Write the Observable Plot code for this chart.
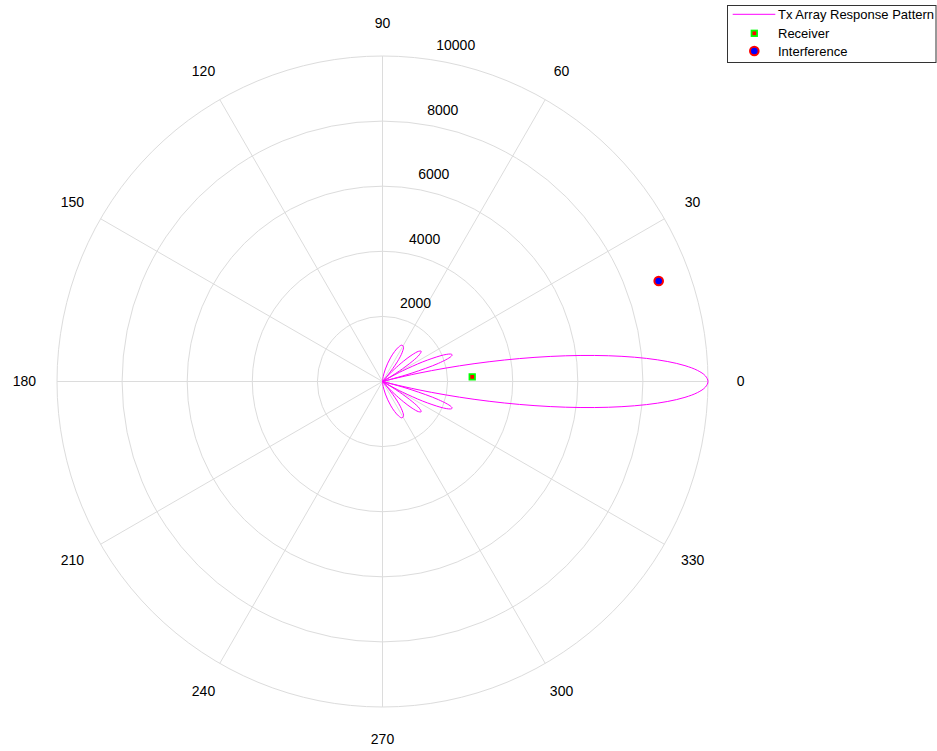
<!DOCTYPE html>
<html>
<head>
<meta charset="utf-8">
<script src="https://cdn.jsdelivr.net/npm/d3@7"></script>
<script src="https://cdn.jsdelivr.net/npm/@observablehq/plot@0.6"></script>
<style>
  html, body { margin: 0; padding: 0; background: #fff; }
  #wrap { position: relative; width: 937px; height: 751px; font-family: "Liberation Sans", Arial, sans-serif; }
  #legend { position: absolute; left: 727px; top: 5px; }
</style>
</head>
<body>
<div id="wrap"></div>
<script>
// ---- data ----
const patternAngles = [-90,-84,-80,-77,-74,-71,-68,-65,-62,-59,-56,-53,-50,-49,-48.59,-48,-47,-46,-44,-42,-40,-38,-36,-34,-32,-31,-30,-29,-28,-26,-24,-23,-22,-21,-20,-18,-16,-15,-14.48,-14,-13,-12,-11,-10,-9,-8,-7,-6,-5,-4,-3,-2,-1,
  0,1,2,3,4,5,6,7,8,9,10,11,12,13,14,14.48,15,16,18,20,21,22,23,24,26,28,29,30,31,32,34,36,38,40,42,44,46,47,48,48.59,49,50,53,56,59,62,65,68,71,74,77,80,84,90];
const patternValues = [0,86,237,396,586,793,997,1167,1265,1250,1086,755,268,80,0,117,318,520,903,1224,1440,1508,1399,1100,621,324,0,344,696,1376,1932,2128,2252,2292,2236,1810,943,350,0,342,1119,1966,2866,3800,4743,5673,6565,7396,8143,8785,9305,9688,9921,
  10000,9921,9688,9305,8785,8143,7396,6565,5673,4743,3800,2866,1966,1119,342,0,350,943,1810,2236,2292,2252,2128,1932,1376,696,344,0,324,621,1100,1399,1508,1440,1224,903,520,318,117,0,80,268,755,1086,1250,1265,1167,997,793,586,396,237,86,0];
const receiverPoint = {angle: 3, r: 2760};
const interferencePoint = {angle: 20, r: 9030};
const ringValues = [2000, 4000, 6000, 8000, 10000];
const spokeAngles = [0, 30, 60, 90, 120, 150];
const angleLabels = [0, 30, 60, 90, 120, 150, 180, 210, 240, 270, 300, 330];
const legendLabels = ["Tx Array Response Pattern", "Receiver", "Interference"];
const rMax = 10000;
const angleLabelRadius = 11000;
const rLabelAngle = 82;

// ---- helpers ----
const rad = a => a * Math.PI / 180;
const px = (r, a) => r * Math.cos(rad(a));
const py = (r, a) => r * Math.sin(rad(a));
const pattern = patternAngles.map((a, i) => ({a, r: patternValues[i]}));

const gridColor = "#dcdcdc";
const font = "'Liberation Sans', Arial, sans-serif";

const chart = Plot.plot({
  width: 937,
  height: 751,
  marginLeft: 56.5,
  marginRight: 229.5,
  marginTop: 55.5,
  marginBottom: 44.5,
  x: {domain: [-rMax, rMax], axis: null},
  y: {domain: [-rMax, rMax], axis: null},
  r: {type: "linear", domain: [0, rMax], range: [0, 325.5]},
  style: {fontFamily: font, fontSize: "14px", background: "white", color: "black", overflow: "visible"},
  marks: [
    Plot.dot(ringValues, {x: () => 0, y: () => 0, r: d => d, fill: "none", stroke: gridColor, strokeWidth: 1}),
    Plot.link(spokeAngles, {
      x1: a => px(rMax, a), y1: a => py(rMax, a),
      x2: a => px(rMax, a + 180), y2: a => py(rMax, a + 180),
      stroke: gridColor, strokeWidth: 1
    }),
    Plot.text(angleLabels, {
      x: a => px(angleLabelRadius, a), y: a => py(angleLabelRadius, a),
      text: a => String(a), fontSize: 14, fill: "black"
    }),
    Plot.text(ringValues, {
      x: v => px(v + 100, rLabelAngle), y: v => py(v + 100, rLabelAngle),
      text: v => String(v), textAnchor: "start", dx: 8, dy: -10, fontSize: 14, fill: "black"
    }),
    Plot.line(pattern, {
      x: d => px(d.r, d.a), y: d => py(d.r, d.a),
      stroke: "#ff00ff", strokeWidth: 1, curve: "catmull-rom"
    }),
    Plot.dot([receiverPoint], {
      x: d => px(d.r, d.angle), y: d => py(d.r, d.angle),
      symbol: "square", r: 3.1, fill: "#ff0000", stroke: "#00ff00", strokeWidth: 1.8
    }),
    Plot.dot([interferencePoint], {
      x: d => px(d.r, d.angle), y: d => py(d.r, d.angle),
      symbol: "circle", r: 4.3, fill: "#0000ff", stroke: "#ff0000", strokeWidth: 2
    })
  ]
});

const wrap = document.getElementById("wrap");
wrap.appendChild(chart);

// ---- legend ----
const lg = d3.select(wrap).append("svg")
  .attr("id", "legend")
  .attr("width", 210).attr("height", 60)
  .style("font-family", font);
lg.append("rect").attr("x", 0.5).attr("y", 0.5).attr("width", 208.5).attr("height", 57)
  .attr("fill", "white").attr("stroke", "#333").attr("stroke-width", 1);
const rowY = [9.3, 28.3, 46];
lg.append("line").attr("x1", 5.7).attr("x2", 48.3).attr("y1", rowY[0]).attr("y2", rowY[0])
  .attr("stroke", "#ff00ff").attr("stroke-width", 1);
lg.append("rect").attr("x", 27.3 - 2.75).attr("y", rowY[1] - 2.75).attr("width", 5.5).attr("height", 5.5)
  .attr("fill", "#ff0000").attr("stroke", "#00ff00").attr("stroke-width", 1.8);
lg.append("circle").attr("cx", 27.3).attr("cy", rowY[2]).attr("r", 4.3)
  .attr("fill", "#0000ff").attr("stroke", "#ff0000").attr("stroke-width", 2);
lg.selectAll("text.lab").data(legendLabels).join("text")
  .attr("class", "lab")
  .attr("x", 51).attr("y", (d, i) => rowY[i])
  .attr("dominant-baseline", "central")
  .attr("font-size", 13).attr("fill", "black")
  .text(d => d);
</script>
</body>
</html>
